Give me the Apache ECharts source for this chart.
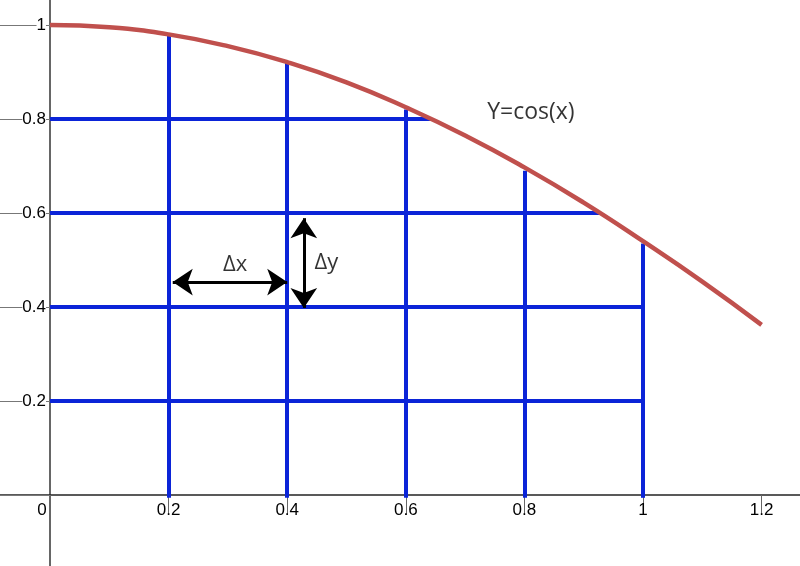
<!DOCTYPE html>
<html>
<head>
<meta charset="utf-8">
<script src="https://cdn.jsdelivr.net/npm/echarts@6/dist/echarts.min.js"></script>
<style>
  html, body { margin: 0; padding: 0; background: #fff; }
  #chart { width: 800px; height: 566px; }
</style>
</head>
<body>
<div id="chart"></div>
<script>
// curve y = cos(x)
const curveX = [0, 0.1, 0.2, 0.3, 0.4, 0.5, 0.6, 0.7, 0.8, 0.9, 1.0, 1.1, 1.2];
const curveY = [1, 0.995, 0.98, 0.955, 0.921, 0.878, 0.825, 0.765, 0.697, 0.622, 0.54, 0.454, 0.362];

// blue vertical lines: x and where they stop under the curve
const vLineX = [0.2, 0.4, 0.6, 0.8, 1];
const vLineTop = [0.983, 0.921, 0.82, 0.69, 0.535];
const vLineBottom = -0.006;

// blue horizontal lines: y and where they end
const hLineY = [0.2, 0.4, 0.6, 0.8];
const hLineEnd = [1, 1, 0.927, 0.644];

// delta arrows
const dxArrow = [[0.207, 0.453], [0.4, 0.453]];
const dyArrow = [[0.428, 0.589], [0.428, 0.398]];

// tick labels shown
const xTicks = [0, 0.2, 0.4, 0.6, 0.8, 1, 1.2];
const yTicks = [0.2, 0.4, 0.6, 0.8, 1];

// text annotations
const notes = [
  { name: "Y=cos(x)", value: [0.811, 0.813], size: 23 },
  { name: "\u0394x", value: [0.312, 0.489], size: 22 },
  { name: "\u0394y", value: [0.466, 0.494], size: 22 },
];

const chart = echarts.init(document.getElementById("chart"));

const blueLines = [];
for (let i = 0; i < vLineX.length; i++) {
  blueLines.push({ coords: [[vLineX[i], vLineBottom], [vLineX[i], vLineTop[i]]] });
}
for (let i = 0; i < hLineY.length; i++) {
  blueLines.push({ coords: [[0, hLineY[i]], [hLineEnd[i], hLineY[i]]] });
}

const near = (v, list) => list.some((t) => Math.abs(t - v) < 1e-6);
const fmt = (v) => String(+v.toFixed(1));
const labelFont = { fontFamily: "Liberation Sans", fontSize: 17, color: "#000" };

chart.setOption({
  animation: false,
  grid: [
    // grid 0: axis lines and ticks, range runs past the canvas so 0 sits where the picture has it
    { left: -68.6, right: -80.2, top: -69, bottom: -23, outerBoundsMode: "none" },
    // grid 1: same scale, edges on the axes, only carries the tick labels
    { left: 50, right: 38.4, top: 25, bottom: 71, outerBoundsMode: "none" },
  ],
  xAxis: [
    {
      gridIndex: 0,
      type: "value",
      min: -0.2,
      max: 1.4,
      interval: 0.2,
      splitLine: { show: false },
      axisLine: { onZero: true, lineStyle: { color: "#222", width: 1.5 } },
      axisTick: { length: 20, lineStyle: { color: "#666", width: 1 } },
      axisLabel: { show: false },
    },
    {
      gridIndex: 1,
      type: "value",
      min: 0,
      max: 1.2,
      interval: 0.2,
      splitLine: { show: false },
      axisLine: { show: false },
      axisTick: { show: false },
      axisLabel: {
        margin: 7,
        ...labelFont,
        formatter: (v) => {
          if (!near(v, xTicks)) return "";
          return Math.abs(v) < 1e-6 ? "{z|0}" : fmt(v);
        },
        rich: { z: { ...labelFont, padding: [0, 16, 0, 0] } },
      },
    },
  ],
  yAxis: [
    {
      gridIndex: 0,
      type: "value",
      min: -0.2,
      max: 1.2,
      interval: 0.2,
      splitLine: { show: false },
      axisLine: { onZero: true, lineStyle: { color: "#333", width: 1.5 } },
      axisTick: { length: 50, lineStyle: { color: "#777", width: 1 } },
      axisLabel: { show: false },
    },
    {
      gridIndex: 1,
      type: "value",
      min: 0,
      max: 1,
      interval: 0.2,
      splitLine: { show: false },
      axisLine: { show: false },
      axisTick: { show: false },
      axisLabel: {
        margin: 4,
        ...labelFont,
        formatter: (v) => (near(v, yTicks) ? "{b|" + fmt(v) + "}" : ""),
        rich: { b: { ...labelFont, backgroundColor: "#fff" } },
      },
    },
  ],
  series: [
    {
      type: "lines",
      coordinateSystem: "cartesian2d",
      data: blueLines,
      lineStyle: { color: "#0b24d8", width: 4, opacity: 1 },
      z: 2,
    },
    {
      type: "line",
      data: curveX.map((x, i) => [x, curveY[i]]),
      smooth: true,
      showSymbol: false,
      lineStyle: { color: "#c0504d", width: 4.5 },
      z: 3,
    },
    {
      type: "lines",
      coordinateSystem: "cartesian2d",
      data: [{ coords: dxArrow }, { coords: dyArrow }],
      symbol: ["arrow", "arrow"],
      symbolSize: 20,
      lineStyle: { color: "#000", width: 3, opacity: 1 },
      z: 4,
    },
    {
      type: "scatter",
      symbolSize: 0,
      data: notes.map((n) => ({
        name: n.name,
        value: n.value,
        label: { fontSize: n.size },
      })),
      label: {
        show: true,
        position: "inside",
        formatter: "{b}",
        fontFamily: "Open Sans",
        color: "#000",
      },
      z: 5,
    },
  ],
});
</script>
</body>
</html>
